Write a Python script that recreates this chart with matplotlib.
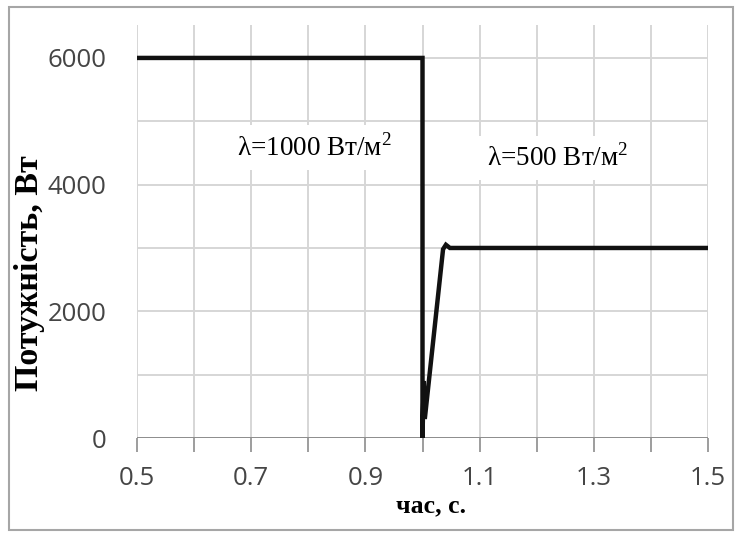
import matplotlib
matplotlib.use("Agg")
import matplotlib.pyplot as plt
from matplotlib.patches import Rectangle

# Power output of the PV array when irradiance steps down
time_s = [0.5, 1.0, 1.0, 1.002, 1.004, 1.036, 1.041, 1.048, 1.5]
power_w = [6000, 6000, 0, 900, 300, 2980, 3050, 3000, 3000]

x_ticks = [0.5, 0.7, 0.9, 1.1, 1.3, 1.5]
x_grid = [0.5 + 0.1 * i for i in range(11)]
y_ticks = [0, 2000, 4000, 6000]
y_grid = [1000, 2000, 3000, 4000, 5000, 6000]

fig = plt.figure(figsize=(7.38, 5.33), dpi=100)
fig.patch.set_facecolor("white")

# outer frame around the chart
fig.patches.append(Rectangle((9 / 738, 3 / 533), 724 / 738, 523 / 533,
                             transform=fig.transFigure, fill=False,
                             edgecolor="#a6a6a6", linewidth=1.5))

ax = fig.add_axes([137 / 738, 95 / 533, 571 / 738, 413 / 533])
ax.set_xlim(0.5, 1.5)
ax.set_ylim(0, 6520)

for gx in x_grid:
    ax.axvline(gx, color="#d6d6d6", linewidth=1.4, zorder=1)
for gy in y_grid:
    ax.axhline(gy, color="#d6d6d6", linewidth=1.4, zorder=1)
ax.axhline(0, color="#8c8c8c", linewidth=1.4, zorder=2)

for s in ax.spines.values():
    s.set_visible(False)

ax.set_xticks(x_ticks)
ax.set_xticklabels([f"{v:.1f}" for v in x_ticks])
ax.set_xticks(x_grid, minor=True)
ax.set_yticks(y_ticks)
ax.set_yticklabels([str(v) for v in y_ticks])
ax.tick_params(axis="x", which="both", direction="out", length=10,
               color="#8c8c8c", width=1.2, pad=10)
ax.tick_params(axis="y", which="both", length=0, pad=22)
for lab in ax.get_xticklabels() + ax.get_yticklabels():
    lab.set_fontfamily(["Open Sans", "DejaVu Sans"])
    lab.set_fontsize(18.5)
    lab.set_color("#454545")

ax.plot(time_s, power_w, color="#111111", linewidth=3.2, zorder=5,
        solid_joinstyle="miter")

serif = ["Liberation Serif", "DejaVu Serif"]
box = dict(facecolor="white", edgecolor="none", pad=6)
ax.text(0.81, 4590, "λ=1000 Вт/м$^\\mathregular{2}$", fontfamily=serif,
        fontsize=19.5, ha="center", va="center", bbox=box, zorder=4)
ax.text(1.237, 4420, "λ=500 Вт/м$^\\mathregular{2}$", fontfamily=serif,
        fontsize=19.5, ha="center", va="center", bbox=box, zorder=4)

fig.text(30 / 738, 1 - 273 / 533, "Потужність, Вт", fontfamily=serif,
         fontsize=24.5, fontweight="bold", rotation=90, ha="center",
         va="center", bbox=dict(facecolor="white", edgecolor="none", pad=2))
fig.text(431 / 738, 1 - 506 / 533, "час, с.", fontfamily=serif,
         fontsize=18.5, fontweight="bold", ha="center", va="center")

fig.savefig("out.png", dpi=100, facecolor="white")
